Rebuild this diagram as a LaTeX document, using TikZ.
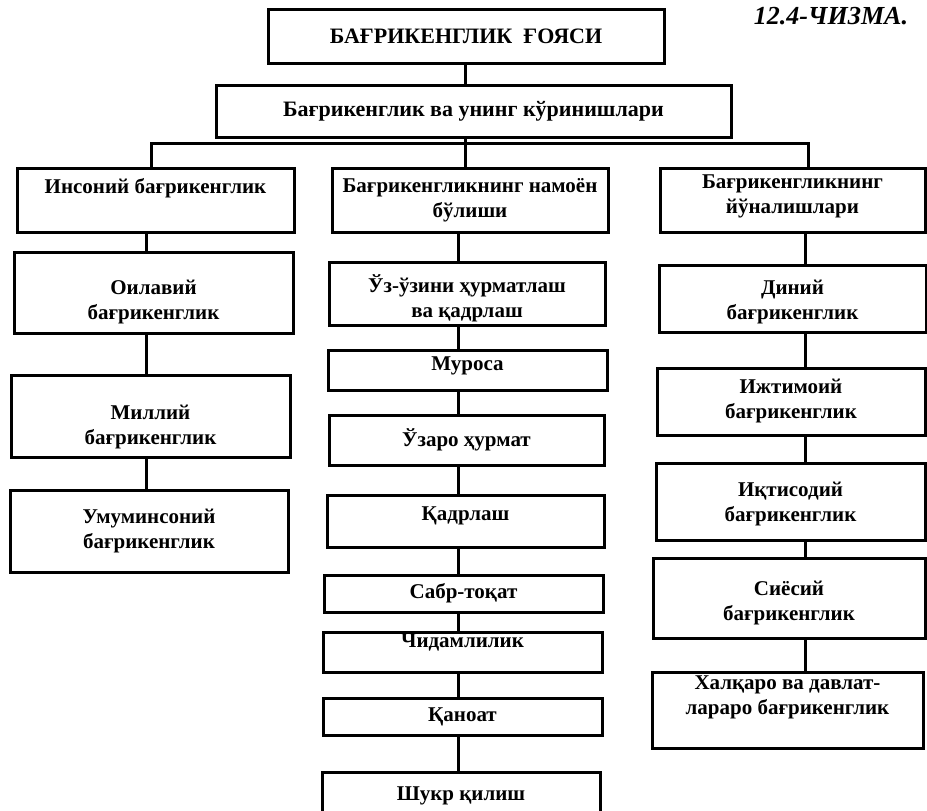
\documentclass[tikz,border=0pt]{standalone}
\usepackage{fontspec}
\setmainfont{Liberation Serif}
\usetikzlibrary{positioning}

\begin{document}
\begin{tikzpicture}[
  x=1pt, y=-1pt,
  every node/.style={font=\fontsize{21}{25}\selectfont\bfseries},
  blok/.style={draw, line width=3pt, align=center, inner sep=0pt},
  lift/.style={text depth=#1},
  drop/.style={text height=#1},
  link/.style={line width=3pt}
]
\useasboundingbox (0,0) rectangle (927,811);

% title row
\node[anchor=base, font=\fontsize{26}{28}\selectfont\bfseries\itshape] (fig) at (831,24) {12.4-ЧИЗМА.};
\node[blok, minimum width=396pt, minimum height=54pt, font=\fontsize{22}{25}\selectfont\bfseries] (top) at (466,36) {БАҒРИКЕНГЛИК\ \ ҒОЯСИ};
\node[blok, minimum width=515pt, minimum height=52pt, font=\fontsize{22}{25}\selectfont\bfseries] (main) at (473.5,111) {Бағрикенглик ва унинг кўринишлари};

% left column
\node[blok, minimum width=277pt, minimum height=64pt, lift=28pt] (ins) at (155.5,200) {Инсоний бағрикенглик};
\node[blok, minimum width=279pt, minimum height=81pt, drop=58pt] (oil) at (153.5,292.5) {Оилавий\\бағрикенглик};
\node[blok, minimum width=279pt, minimum height=82pt, drop=62pt] (mil) at (150.5,416) {Миллий\\бағрикенглик};
\node[blok, minimum width=278pt, minimum height=82pt] (umum) at (149,531) {Умуминсоний\\бағрикенглик};

% middle column
\node[blok, minimum width=276pt, minimum height=64pt] (nam) at (470,200) {Бағрикенгликнинг намоён\\бўлиши};
\node[blok, minimum width=276pt, minimum height=63pt, drop=52pt] (uz) at (467,293.5) {Ўз-ўзини ҳурматлаш\\ва қадрлаш};
\node[blok, minimum width=279pt, minimum height=40pt, lift=13pt] (mur) at (467.5,370) {Муроса};
\node[blok, minimum width=275pt, minimum height=50pt] (uzaro) at (466.5,440) {Ўзаро ҳурмат};
\node[blok, minimum width=277pt, minimum height=52pt, lift=14pt] (qad) at (465.5,521) {Қадрлаш};
\node[blok, minimum width=279pt, minimum height=37pt] (sabr) at (463.5,593.5) {Сабр-тоқат};
\node[blok, minimum width=279pt, minimum height=40pt, lift=22pt] (chid) at (462.5,652) {Чидамлилик};
\node[blok, minimum width=279pt, minimum height=37pt] (qan) at (462.5,716.5) {Қаноат};
\node[blok, minimum width=278pt, minimum height=44pt, lift=-7pt] (shukr) at (461,794) {Шукр қилиш};

% right column
\node[blok, minimum width=265pt, minimum height=64pt, lift=12pt] (yon) at (792.5,200) {Бағрикенгликнинг\\йўналишлари};
\node[blok, minimum width=267pt, minimum height=67pt, drop=46pt] (din) at (792.5,298.5) {Диний\\бағрикенглик};
\node[blok, minimum width=268pt, minimum height=67pt] (ijt) at (791,401.5) {Ижтимоий\\бағрикенглик};
\node[blok, minimum width=269pt, minimum height=77pt, drop=44pt] (iqt) at (790.5,501.5) {Иқтисодий\\бағрикенглик};
\node[blok, minimum width=272pt, minimum height=80pt, drop=49pt] (siy) at (789,598) {Сиёсий\\бағрикенглик};
\node[blok, minimum width=271pt, minimum height=76pt, lift=29pt] (xal) at (787.5,710) {Халқаро ва давлат-\\лараро бағрикенглик};

% connector columns
\coordinate (stem) at (465,0);
\coordinate (busL) at (151,143);
\coordinate (busR) at (808,143);
\coordinate (lcol) at (146,0);
\coordinate (mcol) at (458,0);
\coordinate (rcol) at (805,0);

\draw[link] (top.south -| stem) -- (main.north -| stem);
\draw[link] (main.south -| stem) -- (nam.north -| stem);
\draw[link] (ins.north -| busL) -- (busL) -- (busR) -- (yon.north -| busR);

\draw[link] (ins.south -| lcol) -- (oil.north -| lcol);
\draw[link] (oil.south -| lcol) -- (mil.north -| lcol);
\draw[link] (mil.south -| lcol) -- (umum.north -| lcol);

\draw[link] (nam.south -| mcol) -- (uz.north -| mcol);
\draw[link] (uz.south -| mcol) -- (mur.north -| mcol);
\draw[link] (mur.south -| mcol) -- (uzaro.north -| mcol);
\draw[link] (uzaro.south -| mcol) -- (qad.north -| mcol);
\draw[link] (qad.south -| mcol) -- (sabr.north -| mcol);
\draw[link] (sabr.south -| mcol) -- (chid.north -| mcol);
\draw[link] (chid.south -| mcol) -- (qan.north -| mcol);
\draw[link] (qan.south -| mcol) -- (shukr.north -| mcol);

\draw[link] (yon.south -| rcol) -- (din.north -| rcol);
\draw[link] (din.south -| rcol) -- (ijt.north -| rcol);
\draw[link] (ijt.south -| rcol) -- (iqt.north -| rcol);
\draw[link] (iqt.south -| rcol) -- (siy.north -| rcol);
\draw[link] (siy.south -| rcol) -- (xal.north -| rcol);
\end{tikzpicture}
\end{document}
